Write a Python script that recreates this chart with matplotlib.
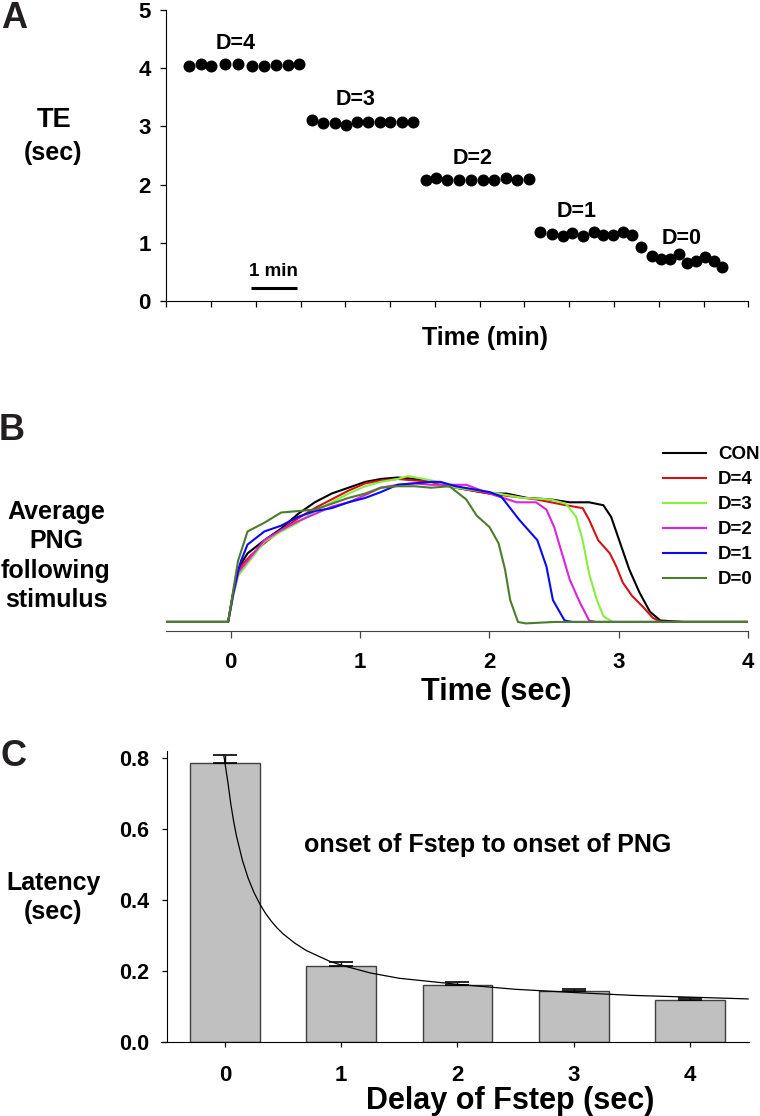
import matplotlib
matplotlib.use('Agg')
import matplotlib.pyplot as plt
import numpy as np

plt.rcParams['font.family'] = ['Liberation Sans', 'DejaVu Sans']
plt.rcParams['font.weight'] = 'bold'

W, H = 760, 1116

# ---- panel A: TE per trial, grouped by delay ----
a_groups = ['D=4', 'D=3', 'D=2', 'D=1', 'D=0']
a_time = [
    [0.50, 0.77, 1.00, 1.31, 1.61, 1.92, 2.18, 2.46, 2.72, 2.96],
    [3.25, 3.49, 3.76, 4.01, 4.25, 4.50, 4.77, 5.00, 5.27, 5.51],
    [5.79, 6.02, 6.28, 6.54, 6.80, 7.08, 7.32, 7.58, 7.83, 8.10],
    [8.34, 8.61, 8.85, 9.06, 9.31, 9.55, 9.76, 9.97, 10.19, 10.41],
    [10.61, 10.84, 11.06, 11.25, 11.45, 11.63, 11.84, 12.04, 12.23, 12.42],
]
a_te = [
    [4.04, 4.07, 4.03, 4.07, 4.07, 4.03, 4.03, 4.06, 4.06, 4.07],
    [3.11, 3.05, 3.05, 3.02, 3.08, 3.08, 3.08, 3.08, 3.08, 3.08],
    [2.08, 2.11, 2.08, 2.08, 2.08, 2.08, 2.08, 2.11, 2.08, 2.09],
    [1.18, 1.15, 1.12, 1.16, 1.12, 1.19, 1.13, 1.13, 1.19, 1.13],
    [0.93, 0.78, 0.73, 0.72, 0.80, 0.66, 0.69, 0.75, 0.68, 0.58],
]
a_label_xy = [(1.55, 4.42), (4.22, 3.46), (6.85, 2.45), (9.17, 1.53), (11.5, 1.07)]

# ---- panel B: average PNG traces (normalised) ----
b_names = ['CON', 'D=4', 'D=3', 'D=2', 'D=1', 'D=0']
b_colors = ['#000000', '#d01414', '#86f03c', '#dc22dc', '#0a0aee', '#4b7d2d']
b_t = [
    [-0.5, -0.05, -0.02, 0.02, 0.06, 0.095, 0.13, 0.26, 0.39, 0.52, 0.65, 0.78, 0.91, 1.04, 1.16, 1.29,
     1.42, 1.55, 1.68, 1.74, 1.87, 2.0, 2.13, 2.29, 2.47, 2.62, 2.77, 2.88, 2.94, 3.01, 3.08, 3.16,
     3.24, 3.32, 3.5, 4.0],
    [-0.5, -0.05, -0.02, 0.02, 0.06, 0.095, 0.16, 0.26, 0.39, 0.52, 0.65, 0.78, 0.91, 1.04, 1.16, 1.29,
     1.42, 1.55, 1.68, 1.74, 2.0, 2.18, 2.36, 2.59, 2.72, 2.77, 2.84, 2.93, 2.98, 3.03, 3.10, 3.19,
     3.26, 3.32, 4.0],
    [-0.5, -0.05, -0.02, 0.02, 0.06, 0.095, 0.26, 0.39, 0.52, 0.65, 0.78, 0.91, 1.04, 1.16, 1.29, 1.37,
     1.55, 1.68, 1.74, 2.0, 2.26, 2.47, 2.59, 2.67, 2.72, 2.77, 2.83, 2.88, 2.95, 4.0],
    [-0.5, -0.05, -0.02, 0.02, 0.06, 0.095, 0.26, 0.39, 0.52, 0.65, 0.78, 0.91, 1.04, 1.16, 1.29, 1.42,
     1.55, 1.68, 1.82, 2.0, 2.21, 2.36, 2.44, 2.50, 2.56, 2.62, 2.70, 2.77, 2.82, 4.0],
    [-0.5, -0.05, -0.02, 0.02, 0.06, 0.08, 0.13, 0.26, 0.39, 0.52, 0.65, 0.78, 0.91, 1.04, 1.16, 1.29,
     1.42, 1.55, 1.62, 1.74, 2.0, 2.09, 2.23, 2.37, 2.44, 2.49, 2.58, 2.64, 4.0],
    [-0.5, -0.05, -0.02, 0.02, 0.057, 0.13, 0.26, 0.39, 0.52, 0.65, 0.78, 0.91, 1.04, 1.16, 1.29, 1.42,
     1.55, 1.69, 1.82, 1.90, 2.0, 2.07, 2.12, 2.16, 2.22, 2.28, 2.5, 4.0],
]
b_val = [
    [0, 0, 0, 0.20, 0.36, 0.42, 0.47, 0.56, 0.64, 0.74, 0.82, 0.88, 0.92, 0.96, 0.98, 0.99,
     0.98, 0.96, 0.94, 0.92, 0.90, 0.88, 0.88, 0.85, 0.84, 0.82, 0.82, 0.80, 0.72, 0.54, 0.36, 0.20,
     0.07, 0.01, 0, 0],
    [0, 0, 0, 0.20, 0.35, 0.40, 0.46, 0.54, 0.63, 0.71, 0.78, 0.84, 0.90, 0.95, 0.97, 0.98,
     0.97, 0.96, 0.93, 0.92, 0.88, 0.86, 0.84, 0.80, 0.78, 0.70, 0.56, 0.47, 0.38, 0.27, 0.18, 0.10,
     0.03, 0, 0],
    [0, 0, 0, 0.18, 0.32, 0.36, 0.55, 0.62, 0.68, 0.76, 0.82, 0.88, 0.93, 0.96, 0.98, 1.00,
     0.97, 0.94, 0.92, 0.89, 0.85, 0.84, 0.81, 0.72, 0.56, 0.33, 0.15, 0.04, 0, 0],
    [0, 0, 0, 0.19, 0.34, 0.38, 0.56, 0.63, 0.69, 0.74, 0.79, 0.82, 0.87, 0.92, 0.94, 0.95,
     0.94, 0.94, 0.94, 0.88, 0.82, 0.82, 0.77, 0.65, 0.47, 0.29, 0.13, 0.01, 0, 0],
    [0, 0, 0, 0.20, 0.36, 0.42, 0.53, 0.62, 0.66, 0.72, 0.76, 0.78, 0.82, 0.85, 0.89, 0.94,
     0.95, 0.96, 0.96, 0.93, 0.89, 0.86, 0.70, 0.56, 0.38, 0.15, 0.01, 0, 0],
    [0, 0, 0, 0.22, 0.42, 0.62, 0.68, 0.75, 0.76, 0.77, 0.81, 0.85, 0.88, 0.92, 0.93, 0.93,
     0.92, 0.93, 0.84, 0.73, 0.65, 0.54, 0.36, 0.15, 0, -0.01, 0, 0],
]

# ---- panel C: latency vs delay ----
c_delay = [0, 1, 2, 3, 4]
c_latency = [0.785, 0.215, 0.160, 0.143, 0.119]
c_sem = [0.024, 0.010, 0.009, 0.008, 0.005]
fit_x = [-0.01, 0.025, 0.05, 0.075, 0.1, 0.15, 0.2, 0.25, 0.3, 0.35, 0.4, 0.45, 0.5, 0.6, 0.7, 0.8,
         0.9, 1.0, 1.25, 1.5, 2.0, 2.5, 3.0, 3.5, 4.0, 4.5]
fit_y = [0.807, 0.732, 0.671, 0.621, 0.579, 0.512, 0.461, 0.421, 0.389, 0.362, 0.340, 0.321, 0.305,
         0.279, 0.258, 0.243, 0.228, 0.217, 0.195, 0.180, 0.163, 0.149, 0.140, 0.132, 0.127, 0.122]


def box(left, top, right, bottom):
    return [left / W, 1 - bottom / H, (right - left) / W, (bottom - top) / H]


def ftext(x, y, s, size, **kw):
    fig.text(x / W, 1 - y / H, s, fontsize=size, fontweight='bold', ha='center', va='center', **kw)


fig = plt.figure(figsize=(W / 100, H / 100), dpi=100)

# panel A
ax = fig.add_axes(box(161, 10, 748.3, 301))
for t, te in zip(a_time, a_te):
    ax.plot(t, te, 'o', color='black', markersize=7.6, linestyle='none')
for name, (x, y) in zip(a_groups, a_label_xy):
    ax.text(x, y, name, fontsize=15.5, fontweight='bold', ha='center', va='center')
ax.plot([1.88, 2.92], [0.22, 0.22], color='black', lw=2.2, solid_capstyle='butt')
ax.text(2.4, 0.5, '1 min', fontsize=13.5, fontweight='bold', ha='center', va='center')
ax.set_xlim(-0.12, 13.0)
ax.set_ylim(0, 5)
ax.spines['left'].set_position(('data', 0))
ax.spines[['top', 'right']].set_visible(False)
ax.set_xticks(np.arange(0, 14))
ax.set_xticklabels([])
ax.set_yticks(range(6))
ax.tick_params(direction='out', length=4.3, width=0.9, labelsize=16, pad=7)

# panel B
bx = fig.add_axes(box(166, 440, 748.3, 630.7))
for name, col, t, v in zip(b_names, b_colors, b_t, b_val):
    bx.plot(t, v, color=col, lw=1.5, label=name)
bx.set_xlim(-0.5, 4.0)
bx.set_ylim(-0.06, 1.247)
bx.spines[['top', 'right', 'left']].set_visible(False)
bx.spines['bottom'].set_color('#444444')
bx.set_yticks([])
bx.set_xticks(range(5))
bx.tick_params(axis='x', direction='out', length=4.8, width=0.9, color='#444444', labelsize=16, pad=10.5)
bx.legend(loc='upper left', bbox_to_anchor=(662.8 / W, 1 - 446 / H), bbox_transform=fig.transFigure,
          frameon=False, fontsize=13.5, handlelength=2.3, handletextpad=0.65, labelspacing=0.42,
          borderpad=0, borderaxespad=0)

# panel C
cx = fig.add_axes(box(161, 750.7, 749.3, 1042.3))
cx.bar(c_delay, c_latency, width=0.6, color='#c0c0c0', edgecolor='#404040', lw=1.0, zorder=2)
cx.errorbar(c_delay, c_latency, yerr=[np.zeros(len(c_sem)), c_sem], fmt='none', ecolor='black',
            elinewidth=1.0, capsize=8.5, capthick=1.2, zorder=3)
cx.plot(fit_x, fit_y, color='black', lw=0.9, zorder=4)
cx.set_xlim(-0.55, 4.51)
cx.set_ylim(0, 0.82)
cx.spines['left'].set_position(('data', -0.5))
cx.spines[['top', 'right']].set_visible(False)
cx.set_xticks(c_delay)
cx.set_yticks([0.0, 0.2, 0.4, 0.6, 0.8])
cx.set_yticklabels(['0.0', '0.2', '0.4', '0.6', '0.8'])
cx.tick_params(direction='out', length=3.6, width=0.9)
cx.tick_params(axis='y', labelsize=15.5, pad=9)
cx.tick_params(axis='x', labelsize=16, pad=13)

# labels
ftext(485, 338, 'Time (min)', 18)
ftext(54, 120, 'TE', 19.5)
ftext(53, 153, '(sec)', 18)
ftext(496, 692, 'Time (sec)', 22)
for i, line in enumerate(['Average', 'PNG', 'following', 'stimulus']):
    ftext(56, 511.7 + 29.5 * i, line, 18)
ftext(487.5, 845, 'onset of Fstep to onset of PNG', 18)
ftext(54, 883, 'Latency', 18)
ftext(53, 912, '(sec)', 18)
ftext(510, 1101, 'Delay of Fstep (sec)', 22)

for letter, (x, y) in zip(['A', 'B', 'C'], [(14, 19), (12, 431), (13, 756)]):
    ftext(x, y, letter, 26, color='#231f20')

fig.savefig('out.png', dpi=100)
